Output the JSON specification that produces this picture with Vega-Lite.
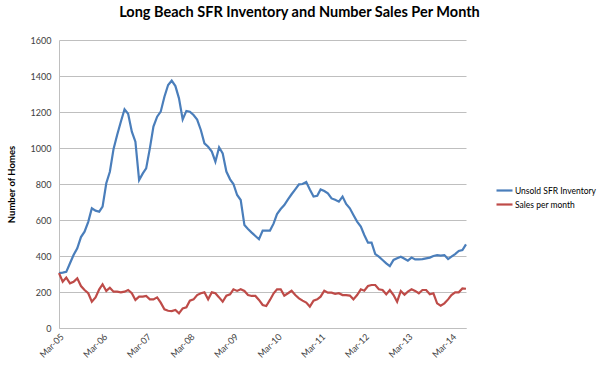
{
  "$schema": "https://vega.github.io/schema/vega-lite/v6.json",
  "autosize": "none",
  "width": 407,
  "height": 288,
  "padding": {"left": 59, "top": 40, "right": 134, "bottom": 41},
  "background": "white",
  "config": {
    "font": "Lato",
    "view": {"stroke": null}
  },
  "title": {
    "text": "Long Beach SFR Inventory and Number Sales Per Month",
    "font": "Lato",
    "fontSize": 14.5,
    "fontWeight": "bold",
    "color": "#000000",
    "anchor": "middle",
    "dx": 37,
    "offset": 16
  },
  "data": {
    "values": [
      {"d": "2005-03", "Unsold SFR Inventory": 305, "Sales per month": 305},
      {"d": "2005-04", "Unsold SFR Inventory": 308, "Sales per month": 257},
      {"d": "2005-05", "Unsold SFR Inventory": 312, "Sales per month": 280},
      {"d": "2005-06", "Unsold SFR Inventory": 360, "Sales per month": 248},
      {"d": "2005-07", "Unsold SFR Inventory": 405, "Sales per month": 257},
      {"d": "2005-08", "Unsold SFR Inventory": 443, "Sales per month": 276},
      {"d": "2005-09", "Unsold SFR Inventory": 505, "Sales per month": 233},
      {"d": "2005-10", "Unsold SFR Inventory": 535, "Sales per month": 211},
      {"d": "2005-11", "Unsold SFR Inventory": 590, "Sales per month": 193},
      {"d": "2005-12", "Unsold SFR Inventory": 665, "Sales per month": 146},
      {"d": "2006-01", "Unsold SFR Inventory": 652, "Sales per month": 170},
      {"d": "2006-02", "Unsold SFR Inventory": 646, "Sales per month": 215},
      {"d": "2006-03", "Unsold SFR Inventory": 674, "Sales per month": 243},
      {"d": "2006-04", "Unsold SFR Inventory": 804, "Sales per month": 206},
      {"d": "2006-05", "Unsold SFR Inventory": 868, "Sales per month": 224},
      {"d": "2006-06", "Unsold SFR Inventory": 995, "Sales per month": 202},
      {"d": "2006-07", "Unsold SFR Inventory": 1072, "Sales per month": 202},
      {"d": "2006-08", "Unsold SFR Inventory": 1146, "Sales per month": 198},
      {"d": "2006-09", "Unsold SFR Inventory": 1215, "Sales per month": 202},
      {"d": "2006-10", "Unsold SFR Inventory": 1190, "Sales per month": 211},
      {"d": "2006-11", "Unsold SFR Inventory": 1091, "Sales per month": 193},
      {"d": "2006-12", "Unsold SFR Inventory": 1035, "Sales per month": 156},
      {"d": "2007-01", "Unsold SFR Inventory": 822, "Sales per month": 174},
      {"d": "2007-02", "Unsold SFR Inventory": 859, "Sales per month": 174},
      {"d": "2007-03", "Unsold SFR Inventory": 887, "Sales per month": 178},
      {"d": "2007-04", "Unsold SFR Inventory": 998, "Sales per month": 159},
      {"d": "2007-05", "Unsold SFR Inventory": 1119, "Sales per month": 159},
      {"d": "2007-06", "Unsold SFR Inventory": 1174, "Sales per month": 170},
      {"d": "2007-07", "Unsold SFR Inventory": 1202, "Sales per month": 141},
      {"d": "2007-08", "Unsold SFR Inventory": 1285, "Sales per month": 104},
      {"d": "2007-09", "Unsold SFR Inventory": 1350, "Sales per month": 96},
      {"d": "2007-10", "Unsold SFR Inventory": 1374, "Sales per month": 94},
      {"d": "2007-11", "Unsold SFR Inventory": 1344, "Sales per month": 100},
      {"d": "2007-12", "Unsold SFR Inventory": 1276, "Sales per month": 81},
      {"d": "2008-01", "Unsold SFR Inventory": 1159, "Sales per month": 109},
      {"d": "2008-02", "Unsold SFR Inventory": 1206, "Sales per month": 115},
      {"d": "2008-03", "Unsold SFR Inventory": 1202, "Sales per month": 152},
      {"d": "2008-04", "Unsold SFR Inventory": 1183, "Sales per month": 159},
      {"d": "2008-05", "Unsold SFR Inventory": 1158, "Sales per month": 183},
      {"d": "2008-06", "Unsold SFR Inventory": 1100, "Sales per month": 193},
      {"d": "2008-07", "Unsold SFR Inventory": 1026, "Sales per month": 198},
      {"d": "2008-08", "Unsold SFR Inventory": 1007, "Sales per month": 159},
      {"d": "2008-09", "Unsold SFR Inventory": 980, "Sales per month": 198},
      {"d": "2008-10", "Unsold SFR Inventory": 924, "Sales per month": 193},
      {"d": "2008-11", "Unsold SFR Inventory": 1004, "Sales per month": 170},
      {"d": "2008-12", "Unsold SFR Inventory": 970, "Sales per month": 146},
      {"d": "2009-01", "Unsold SFR Inventory": 869, "Sales per month": 180},
      {"d": "2009-02", "Unsold SFR Inventory": 826, "Sales per month": 187},
      {"d": "2009-03", "Unsold SFR Inventory": 800, "Sales per month": 215},
      {"d": "2009-04", "Unsold SFR Inventory": 739, "Sales per month": 206},
      {"d": "2009-05", "Unsold SFR Inventory": 711, "Sales per month": 215},
      {"d": "2009-06", "Unsold SFR Inventory": 572, "Sales per month": 206},
      {"d": "2009-07", "Unsold SFR Inventory": 550, "Sales per month": 183},
      {"d": "2009-08", "Unsold SFR Inventory": 530, "Sales per month": 178},
      {"d": "2009-09", "Unsold SFR Inventory": 511, "Sales per month": 178},
      {"d": "2009-10", "Unsold SFR Inventory": 493, "Sales per month": 156},
      {"d": "2009-11", "Unsold SFR Inventory": 541, "Sales per month": 128},
      {"d": "2009-12", "Unsold SFR Inventory": 541, "Sales per month": 122},
      {"d": "2010-01", "Unsold SFR Inventory": 541, "Sales per month": 156},
      {"d": "2010-02", "Unsold SFR Inventory": 581, "Sales per month": 193},
      {"d": "2010-03", "Unsold SFR Inventory": 633, "Sales per month": 215},
      {"d": "2010-04", "Unsold SFR Inventory": 661, "Sales per month": 215},
      {"d": "2010-05", "Unsold SFR Inventory": 683, "Sales per month": 180},
      {"d": "2010-06", "Unsold SFR Inventory": 715, "Sales per month": 193},
      {"d": "2010-07", "Unsold SFR Inventory": 743, "Sales per month": 207},
      {"d": "2010-08", "Unsold SFR Inventory": 770, "Sales per month": 183},
      {"d": "2010-09", "Unsold SFR Inventory": 798, "Sales per month": 165},
      {"d": "2010-10", "Unsold SFR Inventory": 800, "Sales per month": 152},
      {"d": "2010-11", "Unsold SFR Inventory": 811, "Sales per month": 141},
      {"d": "2010-12", "Unsold SFR Inventory": 770, "Sales per month": 119},
      {"d": "2011-01", "Unsold SFR Inventory": 730, "Sales per month": 152},
      {"d": "2011-02", "Unsold SFR Inventory": 735, "Sales per month": 159},
      {"d": "2011-03", "Unsold SFR Inventory": 770, "Sales per month": 174},
      {"d": "2011-04", "Unsold SFR Inventory": 761, "Sales per month": 207},
      {"d": "2011-05", "Unsold SFR Inventory": 748, "Sales per month": 196},
      {"d": "2011-06", "Unsold SFR Inventory": 720, "Sales per month": 196},
      {"d": "2011-07", "Unsold SFR Inventory": 712, "Sales per month": 190},
      {"d": "2011-08", "Unsold SFR Inventory": 702, "Sales per month": 193},
      {"d": "2011-09", "Unsold SFR Inventory": 730, "Sales per month": 183},
      {"d": "2011-10", "Unsold SFR Inventory": 689, "Sales per month": 183},
      {"d": "2011-11", "Unsold SFR Inventory": 665, "Sales per month": 180},
      {"d": "2011-12", "Unsold SFR Inventory": 628, "Sales per month": 159},
      {"d": "2012-01", "Unsold SFR Inventory": 591, "Sales per month": 183},
      {"d": "2012-02", "Unsold SFR Inventory": 563, "Sales per month": 215},
      {"d": "2012-03", "Unsold SFR Inventory": 517, "Sales per month": 207},
      {"d": "2012-04", "Unsold SFR Inventory": 474, "Sales per month": 233},
      {"d": "2012-05", "Unsold SFR Inventory": 474, "Sales per month": 239},
      {"d": "2012-06", "Unsold SFR Inventory": 411, "Sales per month": 239},
      {"d": "2012-07", "Unsold SFR Inventory": 396, "Sales per month": 215},
      {"d": "2012-08", "Unsold SFR Inventory": 378, "Sales per month": 211},
      {"d": "2012-09", "Unsold SFR Inventory": 359, "Sales per month": 187},
      {"d": "2012-10", "Unsold SFR Inventory": 344, "Sales per month": 211},
      {"d": "2012-11", "Unsold SFR Inventory": 378, "Sales per month": 183},
      {"d": "2012-12", "Unsold SFR Inventory": 387, "Sales per month": 146},
      {"d": "2013-01", "Unsold SFR Inventory": 396, "Sales per month": 206},
      {"d": "2013-02", "Unsold SFR Inventory": 385, "Sales per month": 185},
      {"d": "2013-03", "Unsold SFR Inventory": 374, "Sales per month": 202},
      {"d": "2013-04", "Unsold SFR Inventory": 391, "Sales per month": 215},
      {"d": "2013-05", "Unsold SFR Inventory": 381, "Sales per month": 206},
      {"d": "2013-06", "Unsold SFR Inventory": 381, "Sales per month": 193},
      {"d": "2013-07", "Unsold SFR Inventory": 383, "Sales per month": 211},
      {"d": "2013-08", "Unsold SFR Inventory": 387, "Sales per month": 211},
      {"d": "2013-09", "Unsold SFR Inventory": 391, "Sales per month": 187},
      {"d": "2013-10", "Unsold SFR Inventory": 400, "Sales per month": 193},
      {"d": "2013-11", "Unsold SFR Inventory": 405, "Sales per month": 137},
      {"d": "2013-12", "Unsold SFR Inventory": 402, "Sales per month": 124},
      {"d": "2014-01", "Unsold SFR Inventory": 405, "Sales per month": 137},
      {"d": "2014-02", "Unsold SFR Inventory": 383, "Sales per month": 159},
      {"d": "2014-03", "Unsold SFR Inventory": 396, "Sales per month": 183},
      {"d": "2014-04", "Unsold SFR Inventory": 411, "Sales per month": 198},
      {"d": "2014-05", "Unsold SFR Inventory": 428, "Sales per month": 198},
      {"d": "2014-06", "Unsold SFR Inventory": 433, "Sales per month": 220},
      {"d": "2014-07", "Unsold SFR Inventory": 465, "Sales per month": 218}
    ]
  },
  "transform": [
    {"fold": ["Unsold SFR Inventory", "Sales per month"], "as": ["series", "value"]}
  ],
  "mark": {"type": "line", "strokeWidth": 2.2, "interpolate": "linear"},
  "encoding": {
    "x": {
      "field": "d",
      "type": "temporal",
      "timeUnit": "utcyearmonth",
      "scale": {
        "domain": [
          {"year": 2005, "month": 3, "date": 1, "utc": true},
          {"year": 2014, "month": 7, "date": 1, "utc": true}
        ],
        "nice": false
      },
      "axis": {
        "title": null,
        "values": [
          {"year": 2005, "month": 3, "date": 1, "utc": true},
          {"year": 2006, "month": 3, "date": 1, "utc": true},
          {"year": 2007, "month": 3, "date": 1, "utc": true},
          {"year": 2008, "month": 3, "date": 1, "utc": true},
          {"year": 2009, "month": 3, "date": 1, "utc": true},
          {"year": 2010, "month": 3, "date": 1, "utc": true},
          {"year": 2011, "month": 3, "date": 1, "utc": true},
          {"year": 2012, "month": 3, "date": 1, "utc": true},
          {"year": 2013, "month": 3, "date": 1, "utc": true},
          {"year": 2014, "month": 3, "date": 1, "utc": true}
        ],
        "format": "%b-%y",
        "labelAngle": -45,
        "labelFontSize": 9,
        "labelColor": "#404040",
        "labelPadding": 4,
        "grid": false,
        "ticks": false,
        "domainColor": "#BFBFBF",
        "domainWidth": 1
      }
    },
    "y": {
      "field": "value",
      "type": "quantitative",
      "scale": {"domain": [0, 1600], "nice": false},
      "axis": {
        "title": "Number of Homes",
        "titleFontSize": 9.5,
        "titleFontWeight": "bold",
        "titleColor": "#000000",
        "titlePadding": 14,
        "values": [0, 200, 400, 600, 800, 1000, 1200, 1400, 1600],
        "format": "d",
        "labelFontSize": 9,
        "labelColor": "#404040",
        "labelPadding": 8,
        "ticks": false,
        "gridColor": "#BFBFBF",
        "gridWidth": 1,
        "domainColor": "#BFBFBF",
        "domainWidth": 1
      }
    },
    "color": {
      "field": "series",
      "type": "nominal",
      "scale": {
        "domain": ["Unsold SFR Inventory", "Sales per month"],
        "range": ["#4A7EBB", "#BE4B48"]
      },
      "legend": {
        "title": null,
        "orient": "none",
        "legendX": 436,
        "legendY": 141,
        "padding": 0,
        "symbolType": "stroke",
        "symbolSize": 256,
        "symbolStrokeWidth": 2.2,
        "labelFontSize": 8.5,
        "labelColor": "#000000",
        "labelOffset": 1,
        "rowPadding": 0
      }
    }
  }
}
